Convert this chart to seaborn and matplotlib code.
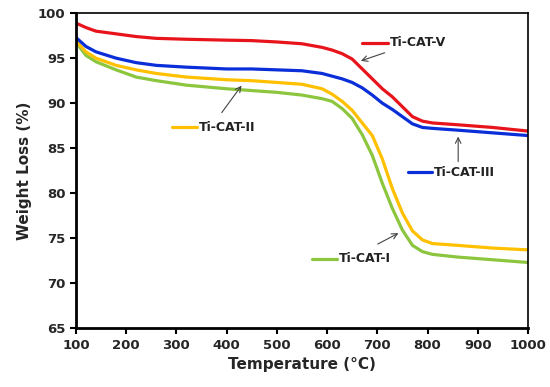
import matplotlib
matplotlib.use("Agg")
import matplotlib.pyplot as plt
import seaborn as sns
import pandas as pd

# Data
temperature = [100, 120, 140, 180, 220, 260, 320, 400, 450, 500, 550, 590, 610,
               630, 650, 670, 690, 710, 730, 750, 770, 790, 810, 860, 930, 1000]

ti_cat_v = [98.9, 98.4, 98.0, 97.7, 97.4, 97.2, 97.1, 97.0, 96.95, 96.8, 96.6, 96.2, 95.9,
            95.5, 94.9, 93.8, 92.7, 91.6, 90.7, 89.6, 88.5, 88.0, 87.8, 87.6, 87.3, 86.9]
ti_cat_iii = [97.3, 96.3, 95.7, 95.0, 94.5, 94.2, 94.0, 93.8, 93.8, 93.7, 93.6, 93.3, 93.0,
              92.7, 92.3, 91.7, 90.9, 90.0, 89.3, 88.5, 87.7, 87.3, 87.2, 87.0, 86.7, 86.4]
ti_cat_ii = [96.9, 95.7, 95.0, 94.2, 93.7, 93.3, 92.9, 92.6, 92.5, 92.3, 92.1, 91.6, 91.0,
             90.2, 89.2, 87.8, 86.4, 83.8, 80.5, 77.8, 75.8, 74.8, 74.4, 74.2, 73.9, 73.7]
ti_cat_i = [96.8, 95.3, 94.6, 93.7, 92.9, 92.5, 92.0, 91.6, 91.4, 91.2, 90.9, 90.5, 90.2,
            89.4, 88.3, 86.5, 84.2, 81.1, 78.3, 75.9, 74.2, 73.5, 73.2, 72.9, 72.6, 72.3]

series = ["Ti-CAT-I", "Ti-CAT-II", "Ti-CAT-III", "Ti-CAT-V"]
colors = {"Ti-CAT-I": "#8cc63f", "Ti-CAT-II": "#ffc000",
          "Ti-CAT-III": "#0a2ed8", "Ti-CAT-V": "#e8141c"}

df = pd.DataFrame({
    "Temperature": temperature * 4,
    "Weight": ti_cat_i + ti_cat_ii + ti_cat_iii + ti_cat_v,
    "Sample": sum([[s] * len(temperature) for s in series], []),
})

sns.set_style("ticks")
plt.rcParams["font.family"] = ["DejaVu Sans"]
plt.rcParams["font.weight"] = "bold"
plt.rcParams["lines.solid_joinstyle"] = "round"

fig, ax = plt.subplots(figsize=(5.5, 3.87), dpi=100)
fig.subplots_adjust(left=0.138, right=0.96, top=0.966, bottom=0.152)

sns.lineplot(data=df, x="Temperature", y="Weight", hue="Sample",
             hue_order=series, palette=colors, linewidth=2.3,
             legend=False, ax=ax)

# inline labels: short line segment + text + arrow pointing at curve
labels = [
    # name, seg x0, seg x1, y, arrow tail, arrow head
    ("Ti-CAT-V", 670, 722, 96.7, (720, 95.7), (662, 94.6)),
    ("Ti-CAT-III", 761, 809, 82.3, (861, 83.2), (861, 86.6)),
    ("Ti-CAT-II", 291, 341, 87.3, (387, 88.7), (433, 92.2)),
    ("Ti-CAT-I", 570, 620, 72.7, (696, 74.2), (747, 75.7)),
]
for name, x0, x1, y, tail, head in labels:
    ax.plot([x0, x1], [y, y], color=colors[name], linewidth=2.3)
    ax.text(x1 + 4, y, name, va="center", ha="left", fontsize=9,
            fontweight="bold", color="#222222")
    ax.annotate("", xy=head, xytext=tail,
                arrowprops=dict(arrowstyle="->", color="#444444", lw=0.8))

ax.set_xlim(100, 1000)
ax.set_ylim(65, 100)
ax.set_xticks(range(100, 1001, 100))
ax.set_yticks(range(65, 101, 5))
ax.set_xlabel("Temperature (°C)", fontsize=11, fontweight="bold")
ax.set_ylabel("Weight Loss (%)", fontsize=11, fontweight="bold")
ax.tick_params(labelsize=9.5, width=1.5, length=4, color="black")
for lab in ax.get_xticklabels() + ax.get_yticklabels():
    lab.set_fontweight("bold")

for side in ["left", "bottom"]:
    ax.spines[side].set_linewidth(2)
    ax.spines[side].set_color("black")
for side in ["top", "right"]:
    ax.spines[side].set_visible(True)
    ax.spines[side].set_linewidth(1.2)
    ax.spines[side].set_color("black")

fig.savefig("out.png", dpi=100)
